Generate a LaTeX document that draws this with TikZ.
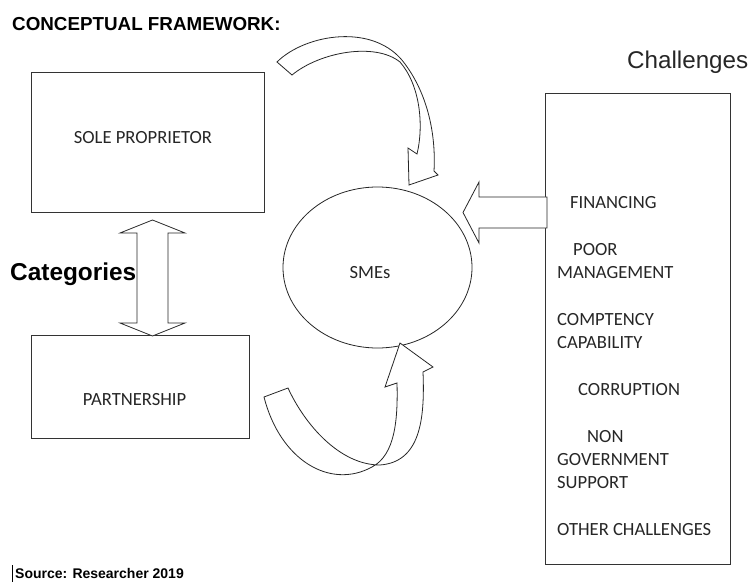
\documentclass[tikz,border=0pt]{standalone}
\usepackage{fontspec}
\setmainfont{Carlito}
\newfontfamily\arialfont{Liberation Sans}
\usetikzlibrary{shapes.geometric}
\begin{document}
\begin{tikzpicture}[x=1bp,y=-1bp]
\tikzset{
  framebox/.style={draw=black!80, line width=0.9bp, rectangle, inner sep=0pt},
  bodytext/.style={inner sep=0pt, font=\fontsize{18.6bp}{22.8bp}\selectfont, text=black!85},
  itemtext/.style={bodytext, anchor=west},
  blockarrow/.style={draw=black!85, line width=0.8bp, fill=white, line join=miter},
}
\useasboundingbox (0,0) rectangle (754,583);

% heading and side labels
\node[anchor=base west, inner sep=0pt, font=\arialfont\bfseries\fontsize{18.8bp}{21bp}\selectfont] (title) at (12,31) {CONCEPTUAL FRAMEWORK:};
\node[anchor=base west, inner sep=0pt, font=\arialfont\fontsize{24.2bp}{28bp}\selectfont, text=black!85] (chlabel) at (627,69) {Challenges};
\node[anchor=base west, inner sep=0pt, font=\arialfont\bfseries\fontsize{24.4bp}{28bp}\selectfont] (catlabel) at (10,280) {Categories};
\node[anchor=base west, inner sep=0pt, font=\arialfont\bfseries\fontsize{14bp}{17bp}\selectfont] (source) at (15,578) {Source: Researcher 2019};
\draw[line width=0.8bp] (12.5,565) -- (12.5,582);

% boxes
\node[framebox, minimum width=233bp, minimum height=140bp] (sole) at (147.5,142) {};
\node[bodytext] (soletext) at (143,138) {SOLE PROPRIETOR};
\node[framebox, minimum width=218bp, minimum height=103bp] (part) at (140,386.5) {};
\node[bodytext] (parttext) at (134.5,400) {PARTNERSHIP};
\node[framebox, minimum width=185bp, minimum height=471bp] (chal) at (637.5,328.5) {};

% ellipse
\node[draw=black!85, line width=0.8bp, ellipse, minimum width=189bp, minimum height=161bp, inner sep=0pt] (smes) at (377.5,267.5) {};
\node[bodytext] (smestext) at (370,273) {SMEs};

% challenge items
\node[itemtext] (fin) at (570,203) {FINANCING};
\node[itemtext] (poor) at (573,250) {POOR};
\node[itemtext] (mgmt) at (557,273) {MANAGEMENT};
\node[itemtext] (comp) at (557,320) {COMPTENCY};
\node[itemtext] (capa) at (557,343) {CAPABILITY};
\node[itemtext] (corr) at (578,390) {CORRUPTION};
\node[itemtext] (non) at (587,437) {NON};
\node[itemtext] (gov) at (557,460) {GOVERNMENT};
\node[itemtext] (supp) at (557,483) {SUPPORT};
\node[itemtext] (other) at (557,530) {OTHER CHALLENGES};

% double arrow between categories
\draw[blockarrow] (152.5,220) -- (185,233) -- (168,233) -- (168,323) -- (185,323)
  -- (152.5,336) -- (120,323) -- (137,323) -- (137,233) -- (120,233) -- cycle;

% arrow from challenges box to SMEs
\draw[blockarrow] (547,197) -- (479,197) -- (479,182) -- (463,212.5) -- (479,243)
  -- (479,228) -- (547,228) -- cycle;

% curved arrow from sole proprietor to SMEs
\draw[blockarrow] (277,62) .. controls (305,34) and (375,22) .. (405,64)
  .. controls (428,95) and (436,135) .. (434,171)
  -- (438,175) -- (409,185) -- (408,148) -- (417,154)
  .. controls (424,125) and (420,85) .. (400,62)
  .. controls (375,42) and (320,52) .. (292,75) -- cycle;

% curved arrow from partnership to SMEs
\draw[blockarrow] (264,397) -- (288,388)
  .. controls (305,425) and (340,465) .. (380,465)
  .. controls (420,462) and (425,420) .. (423,372)
  -- (433,367) -- (400,343) -- (385,387) -- (397,383)
  .. controls (398,420) and (395,455) .. (372,467)
  .. controls (330,490) and (280,460) .. (264,397) -- cycle;
\end{tikzpicture}
\end{document}
